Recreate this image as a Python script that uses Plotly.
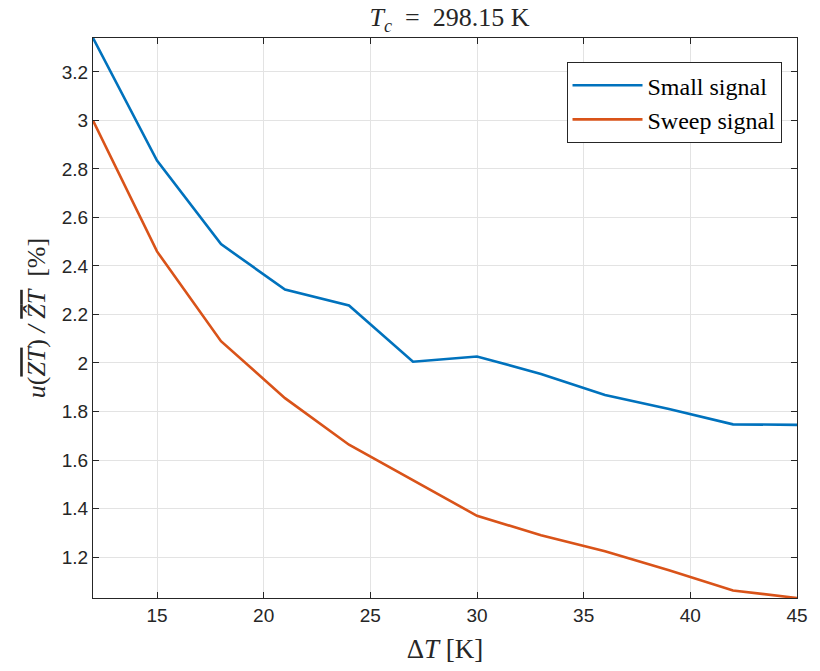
import plotly.graph_objects as go

dT = [12, 15, 18, 21, 24, 27, 30, 33, 36, 39, 42, 45]
small_signal = [3.34, 2.835, 2.49, 2.303, 2.237, 2.005, 2.027, 1.955, 1.868, 1.81, 1.747, 1.745]
sweep_signal = [3.0, 2.46, 2.09, 1.855, 1.663, 1.516, 1.37, 1.29, 1.224, 1.145, 1.062, 1.031]
x_ticks = [15, 20, 25, 30, 35, 40, 45]
y_ticks = [1.2, 1.4, 1.6, 1.8, 2.0, 2.2, 2.4, 2.6, 2.8, 3.0, 3.2]
y_tick_text = ["1.2", "1.4", "1.6", "1.8", "2", "2.2", "2.4", "2.6", "2.8", "3", "3.2"]

serif = "Liberation Serif, Times New Roman, serif"
sans = "Liberation Sans, Arial, sans-serif"

fig = go.Figure()
fig.add_trace(go.Scatter(x=dT, y=small_signal, mode="lines", name="Small signal",
                         line=dict(color="#0072BD", width=2.6)))
fig.add_trace(go.Scatter(x=dT, y=sweep_signal, mode="lines", name="Sweep signal",
                         line=dict(color="#D95319", width=2.6)))

axis_common = dict(showline=True, linecolor="#262626", linewidth=1, mirror="ticks",
                   ticks="inside", ticklen=6, tickcolor="#262626",
                   showgrid=True, gridcolor="#e3e3e3", gridwidth=1, zeroline=False,
                   tickfont=dict(family=sans, size=19, color="#262626"))

fig.update_xaxes(range=[12, 45], tickvals=x_ticks, **axis_common,
                 title=dict(text="Δ<i>T</i> [K]", font=dict(family=serif, size=27, color="#262626"),
                            standoff=14))
fig.update_yaxes(range=[1.031, 3.34], tickvals=y_ticks, ticktext=y_tick_text, **axis_common,
                 title=dict(text="<i>u</i>(<span style='text-decoration:overline'><i>ZT</i></span>)"
                                 "<i> / </i>"
                                 "<span style='text-decoration:overline'><i>Ẑ</i><i>T</i></span>  [%]",
                            font=dict(family=serif, size=26, color="#262626"), standoff=8))

fig.update_layout(
    width=820, height=671,
    margin=dict(l=93, r=14, t=38, b=73),
    paper_bgcolor="white", plot_bgcolor="white",
    title=dict(text="<i>T</i><sub><i>c</i></sub>\u00a0\u00a0=\u00a0\u00a0298.15\u00a0K", x=(93 + 806) / 2 / 820,
               xanchor="center", y=1 - 17 / 671, yanchor="middle",
               font=dict(family=serif, size=26, color="#262626")),
    legend=dict(x=0.978, y=0.957, xanchor="right", yanchor="top",
                bgcolor="white", bordercolor="#262626", borderwidth=1,
                font=dict(family=serif, size=24, color="black"),
                itemwidth=70, tracegroupgap=0),
    showlegend=True,
)

fig.write_html("out.html")
